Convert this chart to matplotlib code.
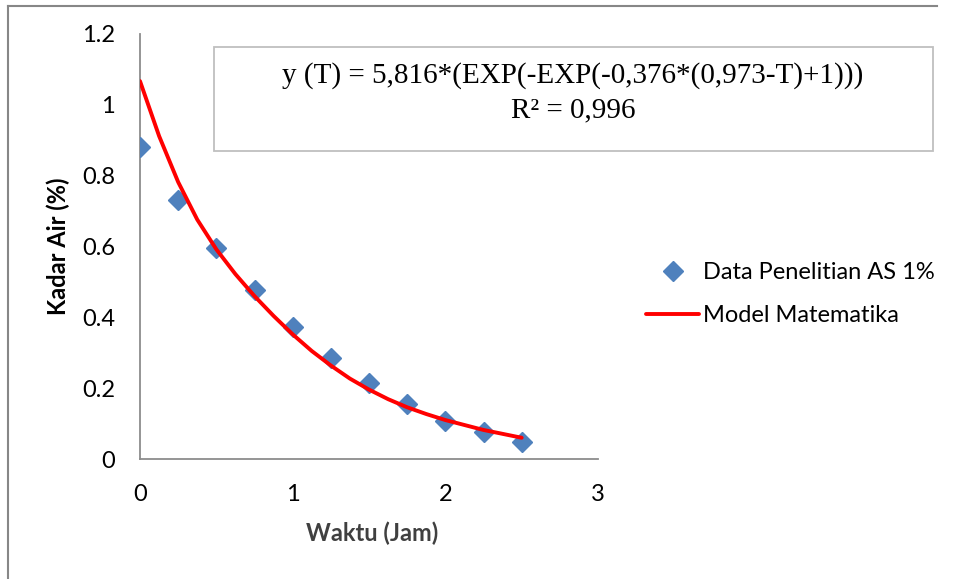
import matplotlib
matplotlib.use("Agg")
from matplotlib import pyplot as plt
from matplotlib.lines import Line2D
from matplotlib.patches import Rectangle

# data
waktu = [0, 0.25, 0.5, 0.75, 1.0, 1.25, 1.5, 1.75, 2.0, 2.25, 2.5]
kadar_air = [0.880, 0.731, 0.597, 0.477, 0.374, 0.286, 0.214, 0.155, 0.107, 0.075, 0.047]

# model curve
waktu_model = [0, 0.125, 0.25, 0.375, 0.5, 0.625, 0.75, 0.875, 1.0, 1.125, 1.25,
               1.375, 1.5, 1.625, 1.75, 1.875, 2.0, 2.125, 2.25, 2.375, 2.5]
kadar_model = [1.067, 0.912, 0.782, 0.676, 0.592, 0.522, 0.460, 0.404, 0.352, 0.305, 0.264,
               0.227, 0.196, 0.169, 0.146, 0.127, 0.110, 0.096, 0.082, 0.071, 0.060]

x_ticks = [0, 1, 2, 3]
y_ticks = [0, 0.2, 0.4, 0.6, 0.8, 1.0, 1.2]
y_labels = ["0", "0.2", "0.4", "0.6", "0.8", "1", "1.2"]

plt.rcParams['font.family'] = ['Lato', 'DejaVu Sans']

W, H = 956, 579
fig = plt.figure(figsize=(W / 100, H / 100), dpi=100)
ax = fig.add_axes([140 / W, 1 - 459 / H, (598 - 140) / W, (459 - 34) / H])

ax.plot(waktu, kadar_air, linestyle='none', marker='D', markersize=10,
        color='#4F81BD', label='Data Penelitian AS 1%', zorder=3)
ax.plot(waktu_model, kadar_model, color='#FF0000', linewidth=2.8,
        label='Model Matematika', zorder=4, solid_capstyle='round')

ax.set_xlim(0, 3)
ax.set_ylim(0, 1.2)
ax.set_xticks(x_ticks)
ax.set_yticks(y_ticks)
ax.set_yticklabels(y_labels)
ax.tick_params(axis='both', length=0, pad=18, labelsize=17, colors='black')
for side in ['top', 'right']:
    ax.spines[side].set_visible(False)
for side in ['left', 'bottom']:
    ax.spines[side].set_color('#8C8C8C')
    ax.spines[side].set_linewidth(1.3)

# axis titles
fig.text(58 / W, 1 - 246 / H, 'Kadar Air (%)', rotation=90, ha='center', va='center',
         fontsize=17, fontweight='bold', color='black')
fig.text(372 / W, 1 - 533 / H, 'Waktu (Jam)', ha='center', va='center',
         fontsize=17, fontweight='bold', color='#404040')

# equation box
fig.add_artist(Rectangle((214 / W, 1 - 151 / H), 719 / W, 104 / H,
                         transform=fig.transFigure, fill=False,
                         edgecolor='#BFBFBF', linewidth=1.3))
fig.text(573 / W, 1 - 76 / H, 'y (T) = 5,816*(EXP(-EXP(-0,376*(0,973-T)+1)))',
         ha='center', va='center', fontsize=21, family='Liberation Serif')
fig.text(573 / W, 1 - 110 / H, 'R² = 0,996',
         ha='center', va='center', fontsize=21, family='Liberation Serif')

# legend
fig.legend(loc='center left', bbox_to_anchor=(646 / W, 1 - 294 / H),
           bbox_transform=fig.transFigure, frameon=False, fontsize=17,
           handlelength=2.25, handletextpad=0.18, labelspacing=0.95,
           borderpad=0, borderaxespad=0, numpoints=1)

# outer chart border (left and top visible)
fig.add_artist(Line2D([7.5 / W, 7.5 / W], [0, 1 - 5.5 / H], transform=fig.transFigure,
                      color='#878787', linewidth=1.5))
fig.add_artist(Line2D([7.5 / W, 937 / W], [1 - 5.5 / H, 1 - 5.5 / H], transform=fig.transFigure,
                      color='#878787', linewidth=1.5))

fig.savefig('out.png', dpi=100)
